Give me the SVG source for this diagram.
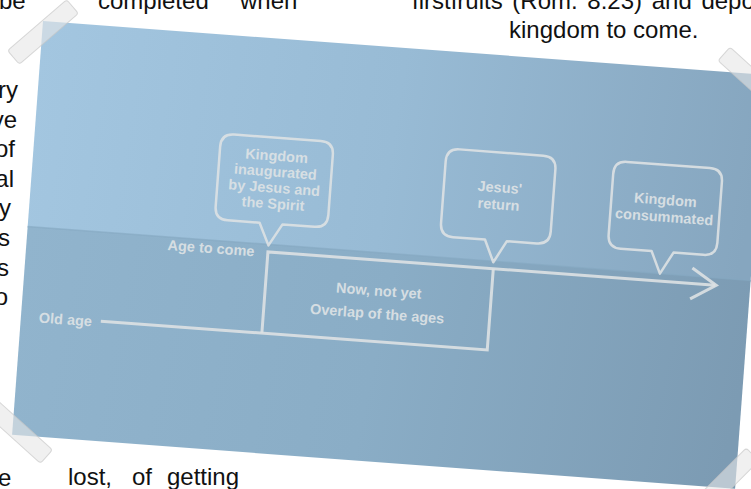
<svg xmlns="http://www.w3.org/2000/svg" width="751" height="489" viewBox="0 0 751 489">
  <defs>
    <linearGradient id="gUp" gradientUnits="userSpaceOnUse" x1="0" y1="0" x2="725" y2="60">
      <stop offset="0" stop-color="#a3c6e0"/>
      <stop offset="0.5" stop-color="#98bbd5"/>
      <stop offset="1" stop-color="#86a6bf"/>
    </linearGradient>
    <linearGradient id="gLow" gradientUnits="userSpaceOnUse" x1="0" y1="206" x2="725" y2="300">
      <stop offset="0" stop-color="#91b4cd"/>
      <stop offset="0.5" stop-color="#8aadc6"/>
      <stop offset="1" stop-color="#7c9bb3"/>
    </linearGradient>
    <style>
      .page { font-family: "Liberation Sans", Arial, sans-serif; font-size: 24px; fill: #111; }
      .lbl { font-family: "Liberation Sans", Arial, sans-serif; font-size: 14.5px; font-weight: bold; fill: #dde2e5; opacity: 0.92; }
      .ctr { text-anchor: middle; }
      .ln { fill: none; stroke: #dde1e3; stroke-width: 3; opacity: 0.9; stroke-linejoin: miter; }
      .bub { fill: none; stroke: #dde1e3; stroke-width: 2.5; opacity: 0.9; stroke-linejoin: round; }
      .tape { fill: #e6e6e6; fill-opacity: 0.6; stroke: #c8c8c8; stroke-opacity: 0.7; stroke-width: 1; }
    </style>
  </defs>

  <rect x="0" y="0" width="751" height="489" fill="#ffffff"/>

  <!-- page text around the picture -->
  <g id="page-text" class="page">
    <text x="-1" y="9">be</text>
    <text x="98" y="9">completed</text>
    <text x="240" y="9">when</text>
    <text x="412" y="9" word-spacing="3">firstfruits (Rom. 8:23) and depo</text>
    <text x="509" y="38">kingdom to come.</text>
    <g text-anchor="end">
      <text x="18" y="98">ry</text>
      <text x="17" y="128">ve</text>
      <text x="15" y="157">of</text>
      <text x="14" y="187">al</text>
      <text x="11" y="216">y</text>
      <text x="10" y="246">s</text>
      <text x="9" y="276">s</text>
      <text x="8" y="305">o</text>
    </g>
    <text x="-2" y="486">e</text>
    <text x="68" y="485">lost,</text>
    <text x="132" y="485">of</text>
    <text x="167" y="485">getting</text>
  </g>

  <!-- the slide (photographed, rotated) -->
  <g id="slide" transform="translate(43,21) rotate(4.27)">
    <rect x="0" y="0" width="725" height="207" fill="url(#gUp)"/>
    <rect x="0" y="206" width="725" height="209" fill="url(#gLow)"/>
    <line x1="0" y1="206" x2="725" y2="206" stroke="#86a9c2" stroke-width="1.5" opacity="0.6"/>

    <g id="connectors">
      <path class="ln" d="M80,295 H467.5 V213.5"/>
      <path class="ln" d="M241.5,295 V213.5 H690"/>
      <path class="ln" d="M666,198 L691,213.5 L666,229"/>
    </g>

    <g id="label-old-age">
      <text class="lbl" x="18" y="301">Old age</text>
    </g>
    <g id="label-age-to-come">
      <text class="lbl" x="141" y="219">Age to come</text>
    </g>

    <g id="overlap">
      <text class="lbl ctr" x="355" y="249">Now, not yet</text>
      <text class="lbl ctr" x="355" y="272">Overlap of the ages</text>
    </g>

    <g id="bubble-inaugurated">
      <path class="bub" d="M199,99 H286 Q299,99 299,112 V172 Q299,185 286,185 H254 L241.5,207 L231,185 H199 Q186,185 186,172 V112 Q186,99 199,99 Z"/>
      <text class="lbl ctr" x="243" y="122">Kingdom</text>
      <text class="lbl ctr" x="243" y="138">inaugurated</text>
      <text class="lbl ctr" x="243" y="154">by Jesus and</text>
      <text class="lbl ctr" x="243" y="170">the Spirit</text>
    </g>

    <g id="bubble-return">
      <path class="bub" d="M425,97 H509 Q522,97 522,110 V172 Q522,185 509,185 H479 L467,207 L457,185 H425 Q412,185 412,172 V110 Q412,97 425,97 Z"/>
      <text class="lbl ctr" x="468" y="137">Jesus'</text>
      <text class="lbl ctr" x="468" y="154">return</text>
    </g>

    <g id="bubble-consummated">
      <path class="bub" d="M593,97 H676 Q689,97 689,110 V171 Q689,184 676,184 H646 L634,206 L624,184 H593 Q580,184 580,171 V110 Q580,97 593,97 Z"/>
      <text class="lbl ctr" x="634" y="137">Kingdom</text>
      <text class="lbl ctr" x="634" y="154">consummated</text>
    </g>
  </g>

  <!-- tape pieces at the corners -->
  <g id="tapes">
    <rect class="tape" x="-39" y="-9" width="78" height="18" rx="3" transform="translate(43,32) rotate(-40.7)"/>
    <rect class="tape" x="-39" y="-9" width="78" height="18" rx="3" transform="translate(17.5,430.5) rotate(42)"/>
    <rect class="tape" x="-39" y="-9" width="78" height="18" rx="3" transform="translate(753,80) rotate(42)"/>
    <rect class="tape" x="-39" y="-9" width="78" height="18" rx="3" transform="translate(725,482) rotate(-45)"/>
  </g>
</svg>
